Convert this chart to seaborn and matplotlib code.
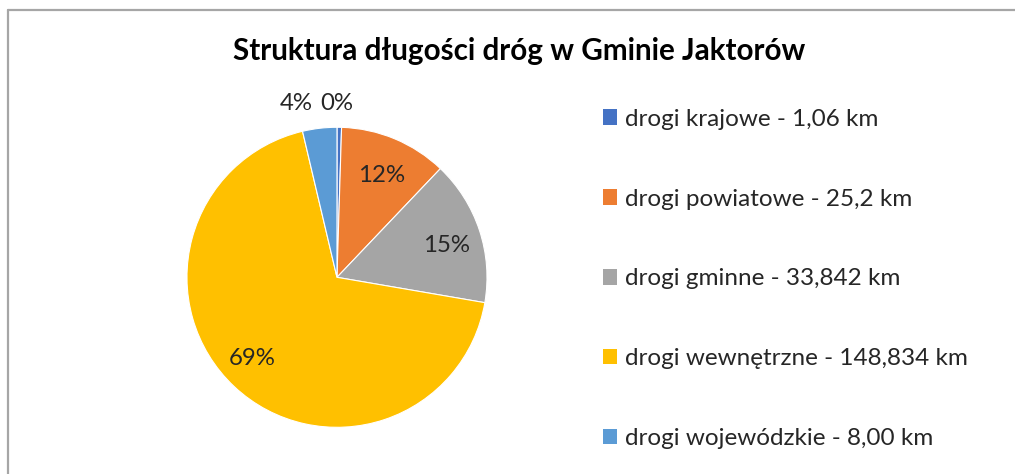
import numpy as np
import matplotlib
matplotlib.use('Agg')
import matplotlib.pyplot as plt
import seaborn as sns
from matplotlib.patches import Patch
from matplotlib.lines import Line2D

# Data
categories = ['drogi krajowe', 'drogi powiatowe', 'drogi gminne',
              'drogi wewnętrzne', 'drogi wojewódzkie']
lengths_km = [1.06, 25.2, 33.842, 148.834, 8.00]
length_text = ['1,06', '25,2', '33,842', '148,834', '8,00']
pct_labels = ['0%', '12%', '15%', '69%', '4%']

sns.set_theme(style='white')
plt.rcParams['font.family'] = ['Lato', 'DejaVu Sans']

colors = ['#4472C4', '#ED7D31', '#A5A5A5', '#FFC000', '#5B9BD5']

fig = plt.figure(figsize=(10.15, 4.74), dpi=100)

# pie axes (Excel style: start at 12 o'clock, clockwise)
ax = fig.add_axes([0.1842, 0.0985, 0.2956, 0.633])
wedges, _ = ax.pie(lengths_km, colors=colors, startangle=90, counterclock=False,
                   wedgeprops=dict(edgecolor='white', linewidth=0.8))
ax.set_xlim(-1, 1)
ax.set_ylim(-1, 1)
ax.set_aspect('auto')

# data labels: radius as fraction of pie radius, small angular nudge for the tiny slices
label_r = [1.16, 0.74, 0.76, 0.78, 1.19]
label_nudge = [1.0, -1.0, -2.0, -3.0, 6.5]
for w, txt, r, d in zip(wedges, pct_labels, label_r, label_nudge):
    ang = np.deg2rad((w.theta1 + w.theta2) / 2 + d)
    ax.text(r * np.cos(ang), r * np.sin(ang), txt, ha='center', va='center',
            fontsize=17.3, color='#262626')

# title
fig.text(0.511, 0.893, 'Struktura długości dróg w Gminie Jaktorów',
         ha='center', va='center', fontsize=21.3, fontweight='bold', color='black')

# legend
handles = [Patch(facecolor=c, edgecolor='none') for c in colors]
labels = [f'{c} - {t} km' for c, t in zip(categories, length_text)]
fig.legend(handles, labels, loc='upper left', bbox_to_anchor=(0.594, 0.7705),
           frameon=False, fontsize=17.5, handlelength=0.6, handleheight=0.6,
           handletextpad=0.3, labelspacing=2.42, borderpad=0, borderaxespad=0,
           labelcolor='#262626')

# chart area border (only top/left visible in the crop)
fig.add_artist(Line2D([7.5 / 1015, 7.5 / 1015], [0, 1 - 10 / 474],
                      color='#A6A6A6', linewidth=1.6, transform=fig.transFigure))
fig.add_artist(Line2D([7.5 / 1015, 1], [1 - 10 / 474, 1 - 10 / 474],
                      color='#A6A6A6', linewidth=1.6, transform=fig.transFigure))

fig.savefig('out.png', dpi=100, facecolor='white')
